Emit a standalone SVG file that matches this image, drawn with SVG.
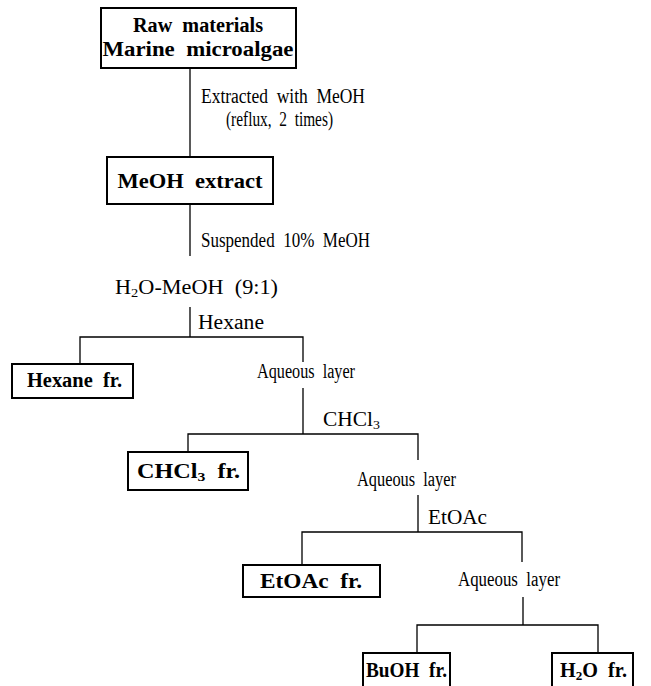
<svg xmlns="http://www.w3.org/2000/svg" width="651" height="686" viewBox="0 0 651 686">
<style>
.bg{fill:#ffffff}
.box{fill:#ffffff;stroke:#000000;stroke-width:2}
.ln{fill:none;stroke:#000000;stroke-width:1.3}
text{font-family:"Liberation Serif","Times New Roman",serif;font-size:20px;fill:#000000;word-spacing:5px}
.b{font-weight:bold}
</style>
<rect class="bg" x="0" y="0" width="651" height="686"/>
<g id="connectors">
<path class="ln" d="M190 68V157"/>
<path class="ln" d="M190 204V256"/>
<path class="ln" d="M190 307V337M80 364V337H303V362"/>
<path class="ln" d="M303 388V434M188 452V434H418V460"/>
<path class="ln" d="M418 495V532M302 565V532H522V562"/>
<path class="ln" d="M523 597V625M417 653V625H598V653"/>
</g>
<g id="raw">
<rect class="box" x="101" y="8" width="195" height="60"/>
<text class="b" x="198" y="32" text-anchor="middle" textLength="130" lengthAdjust="spacingAndGlyphs">Raw materials</text>
<text class="b" x="198" y="56" text-anchor="middle" textLength="191" lengthAdjust="spacingAndGlyphs">Marine microalgae</text>
</g>
<g id="lbl-extract">
<text x="201" y="103" textLength="164" lengthAdjust="spacingAndGlyphs">Extracted with MeOH</text>
<text x="226" y="126" textLength="107" lengthAdjust="spacingAndGlyphs">(reflux, 2 times)</text>
</g>
<g id="meoh">
<rect class="box" x="107" y="157" width="166" height="47"/>
<text class="b" x="190" y="188" text-anchor="middle" textLength="145" lengthAdjust="spacingAndGlyphs">MeOH extract</text>
</g>
<g id="lbl-suspend">
<text x="201" y="247" textLength="169" lengthAdjust="spacingAndGlyphs">Suspended 10% MeOH</text>
</g>
<g id="h2omeoh">
<text x="115" y="294" textLength="163" lengthAdjust="spacingAndGlyphs">H<tspan font-size="13" dy="3">2</tspan><tspan dy="-3">O-MeOH (9:1)</tspan></text>
</g>
<g id="lbl-hexane">
<text x="198" y="329" textLength="66" lengthAdjust="spacingAndGlyphs">Hexane</text>
</g>
<g id="hexane-fr">
<rect class="box" x="12" y="364" width="121" height="34"/>
<text class="b" x="27" y="387" textLength="95" lengthAdjust="spacingAndGlyphs">Hexane fr.</text>
</g>
<g id="aq1">
<text x="257" y="378" textLength="98" lengthAdjust="spacingAndGlyphs">Aqueous layer</text>
</g>
<g id="lbl-chcl3">
<text x="323" y="426" textLength="57" lengthAdjust="spacingAndGlyphs">CHCl<tspan font-size="13" dy="3">3</tspan></text>
</g>
<g id="chcl3-fr">
<rect class="box" x="128" y="452" width="120" height="38"/>
<text class="b" x="137" y="478" textLength="103" lengthAdjust="spacingAndGlyphs">CHCl<tspan font-size="13" dy="3">3</tspan><tspan dy="-3"> fr.</tspan></text>
</g>
<g id="aq2">
<text x="357" y="486" textLength="99" lengthAdjust="spacingAndGlyphs">Aqueous layer</text>
</g>
<g id="lbl-etoac">
<text x="428" y="524" textLength="59" lengthAdjust="spacingAndGlyphs">EtOAc</text>
</g>
<g id="etoac-fr">
<rect class="box" x="243" y="565" width="137" height="32"/>
<text class="b" x="260" y="588" textLength="102" lengthAdjust="spacingAndGlyphs">EtOAc fr.</text>
</g>
<g id="aq3">
<text x="458" y="586" textLength="102" lengthAdjust="spacingAndGlyphs">Aqueous layer</text>
</g>
<g id="buoh-fr">
<rect class="box" x="363" y="653" width="87" height="40"/>
<text class="b" x="366" y="677" textLength="81" lengthAdjust="spacingAndGlyphs">BuOH fr.</text>
</g>
<g id="h2o-fr">
<rect class="box" x="552" y="653" width="81" height="40"/>
<text class="b" x="560" y="677" textLength="67" lengthAdjust="spacingAndGlyphs">H<tspan font-size="13" dy="3">2</tspan><tspan dy="-3">O fr.</tspan></text>
</g>
</svg>
